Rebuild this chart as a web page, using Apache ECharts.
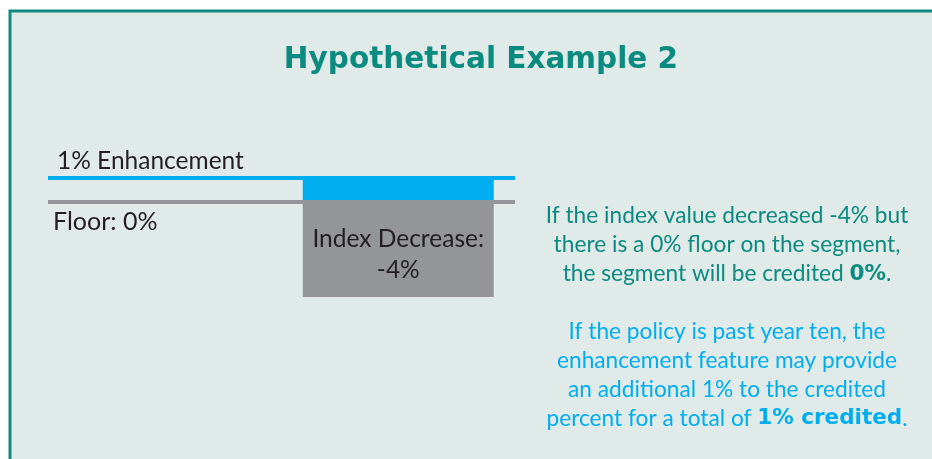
<!DOCTYPE html>
<html>
<head>
<meta charset="utf-8">
<script src="https://cdn.jsdelivr.net/npm/echarts@6/dist/echarts.min.js"></script>
<style>
  html, body { margin: 0; padding: 0; background: #fff; }
  #chart { width: 932px; height: 459px; }
</style>
</head>
<body>
<div id="chart"></div>
<script>
// values
const categories = ['Floor', 'Segment']
const indexChange = [null, -4]
const enhancement = [null, 1]
const floorLevel = 0
const enhancementLevel = 1

const titleText = 'Hypothetical Example 2'
const floorNote = [
    'If the index value decreased -4% but',
    'there is a 0% floor on the segment,',
    'the segment will be credited {b|0%}.'
]
const enhancementNote = [
    'If the policy is past year ten, the',
    'enhancement feature may provide',
    'an additional 1% to the credited',
    'percent for a total of {b|1% credited}.'
]

const TEAL = '#0b8b7f'
const BLUE = '#00aeef'
const GRAY = '#939598'
const INK = '#231f20'
const FONT = 'Lato'

let chart = echarts.init(document.getElementById('chart'))

function note(lines, color, centerY) {
    return {
        type: 'text',
        x: 727,
        y: centerY,
        z: 10,
        style: {
            text: lines.join('\n'),
            align: 'center',
            verticalAlign: 'middle',
            fill: color,
            font: '22.7px ' + FONT,
            lineHeight: 29,
            rich: {
                b: { fill: color, fontFamily: 'DejaVu Sans', fontSize: 21.5, fontWeight: 'bold', lineHeight: 29 }
            }
        }
    }
}

let chartOpt = {
    backgroundColor: '#fff',
    animation: false,
    title: {
        text: titleText,
        left: 476,
        top: 40,
        textAlign: 'center',
        textStyle: { color: TEAL, fontFamily: 'DejaVu Sans', fontWeight: 'bold', fontSize: 29.5 }
    },
    graphic: [
        {
            type: 'rect',
            z: -10,
            shape: { x: 10, y: 11, width: 940, height: 470 },
            style: { fill: '#e0eae9', stroke: '#0e8c80', lineWidth: 3 }
        },
        note(floorNote, TEAL, 245),
        note(enhancementNote, BLUE, 375)
    ],
    grid: { left: 48, right: 417, top: 178, bottom: 162 },
    xAxis: { type: 'category', data: categories, show: false },
    yAxis: { type: 'value', min: -4, max: 1, show: false, splitLine: { show: false } },
    series: [
        {
            name: 'Index Decrease',
            type: 'bar',
            stack: 'credit',
            barWidth: 191,
            data: indexChange,
            itemStyle: { color: GRAY },
            label: {
                show: true,
                position: 'inside',
                offset: [0, 5],
                color: INK,
                fontFamily: FONT,
                fontSize: 24.5,
                lineHeight: 31,
                formatter: p => 'Index Decrease:\n' + p.value + '%'
            },
            markLine: {
                silent: true,
                symbol: 'none',
                z: 5,
                data: [
                    {
                        yAxis: floorLevel,
                        lineStyle: { color: GRAY, width: 4, type: 'solid' },
                        label: {
                            position: 'insideStartBottom',
                            formatter: 'Floor: ' + floorLevel + '%',
                            distance: [5, 8],
                            color: INK, fontFamily: FONT, fontSize: 25
                        }
                    },
                    {
                        yAxis: enhancementLevel,
                        lineStyle: { color: BLUE, width: 4, type: 'solid' },
                        label: {
                            position: 'insideStartTop',
                            formatter: enhancementLevel + '% Enhancement',
                            distance: [9, 4],
                            color: INK, fontFamily: FONT, fontSize: 24.5
                        }
                    }
                ]
            }
        },
        {
            name: 'Enhancement',
            type: 'bar',
            stack: 'credit',
            barWidth: 191,
            data: enhancement,
            itemStyle: { color: BLUE }
        }
    ]
}

chart.setOption(chartOpt)
</script>
</body>
</html>
